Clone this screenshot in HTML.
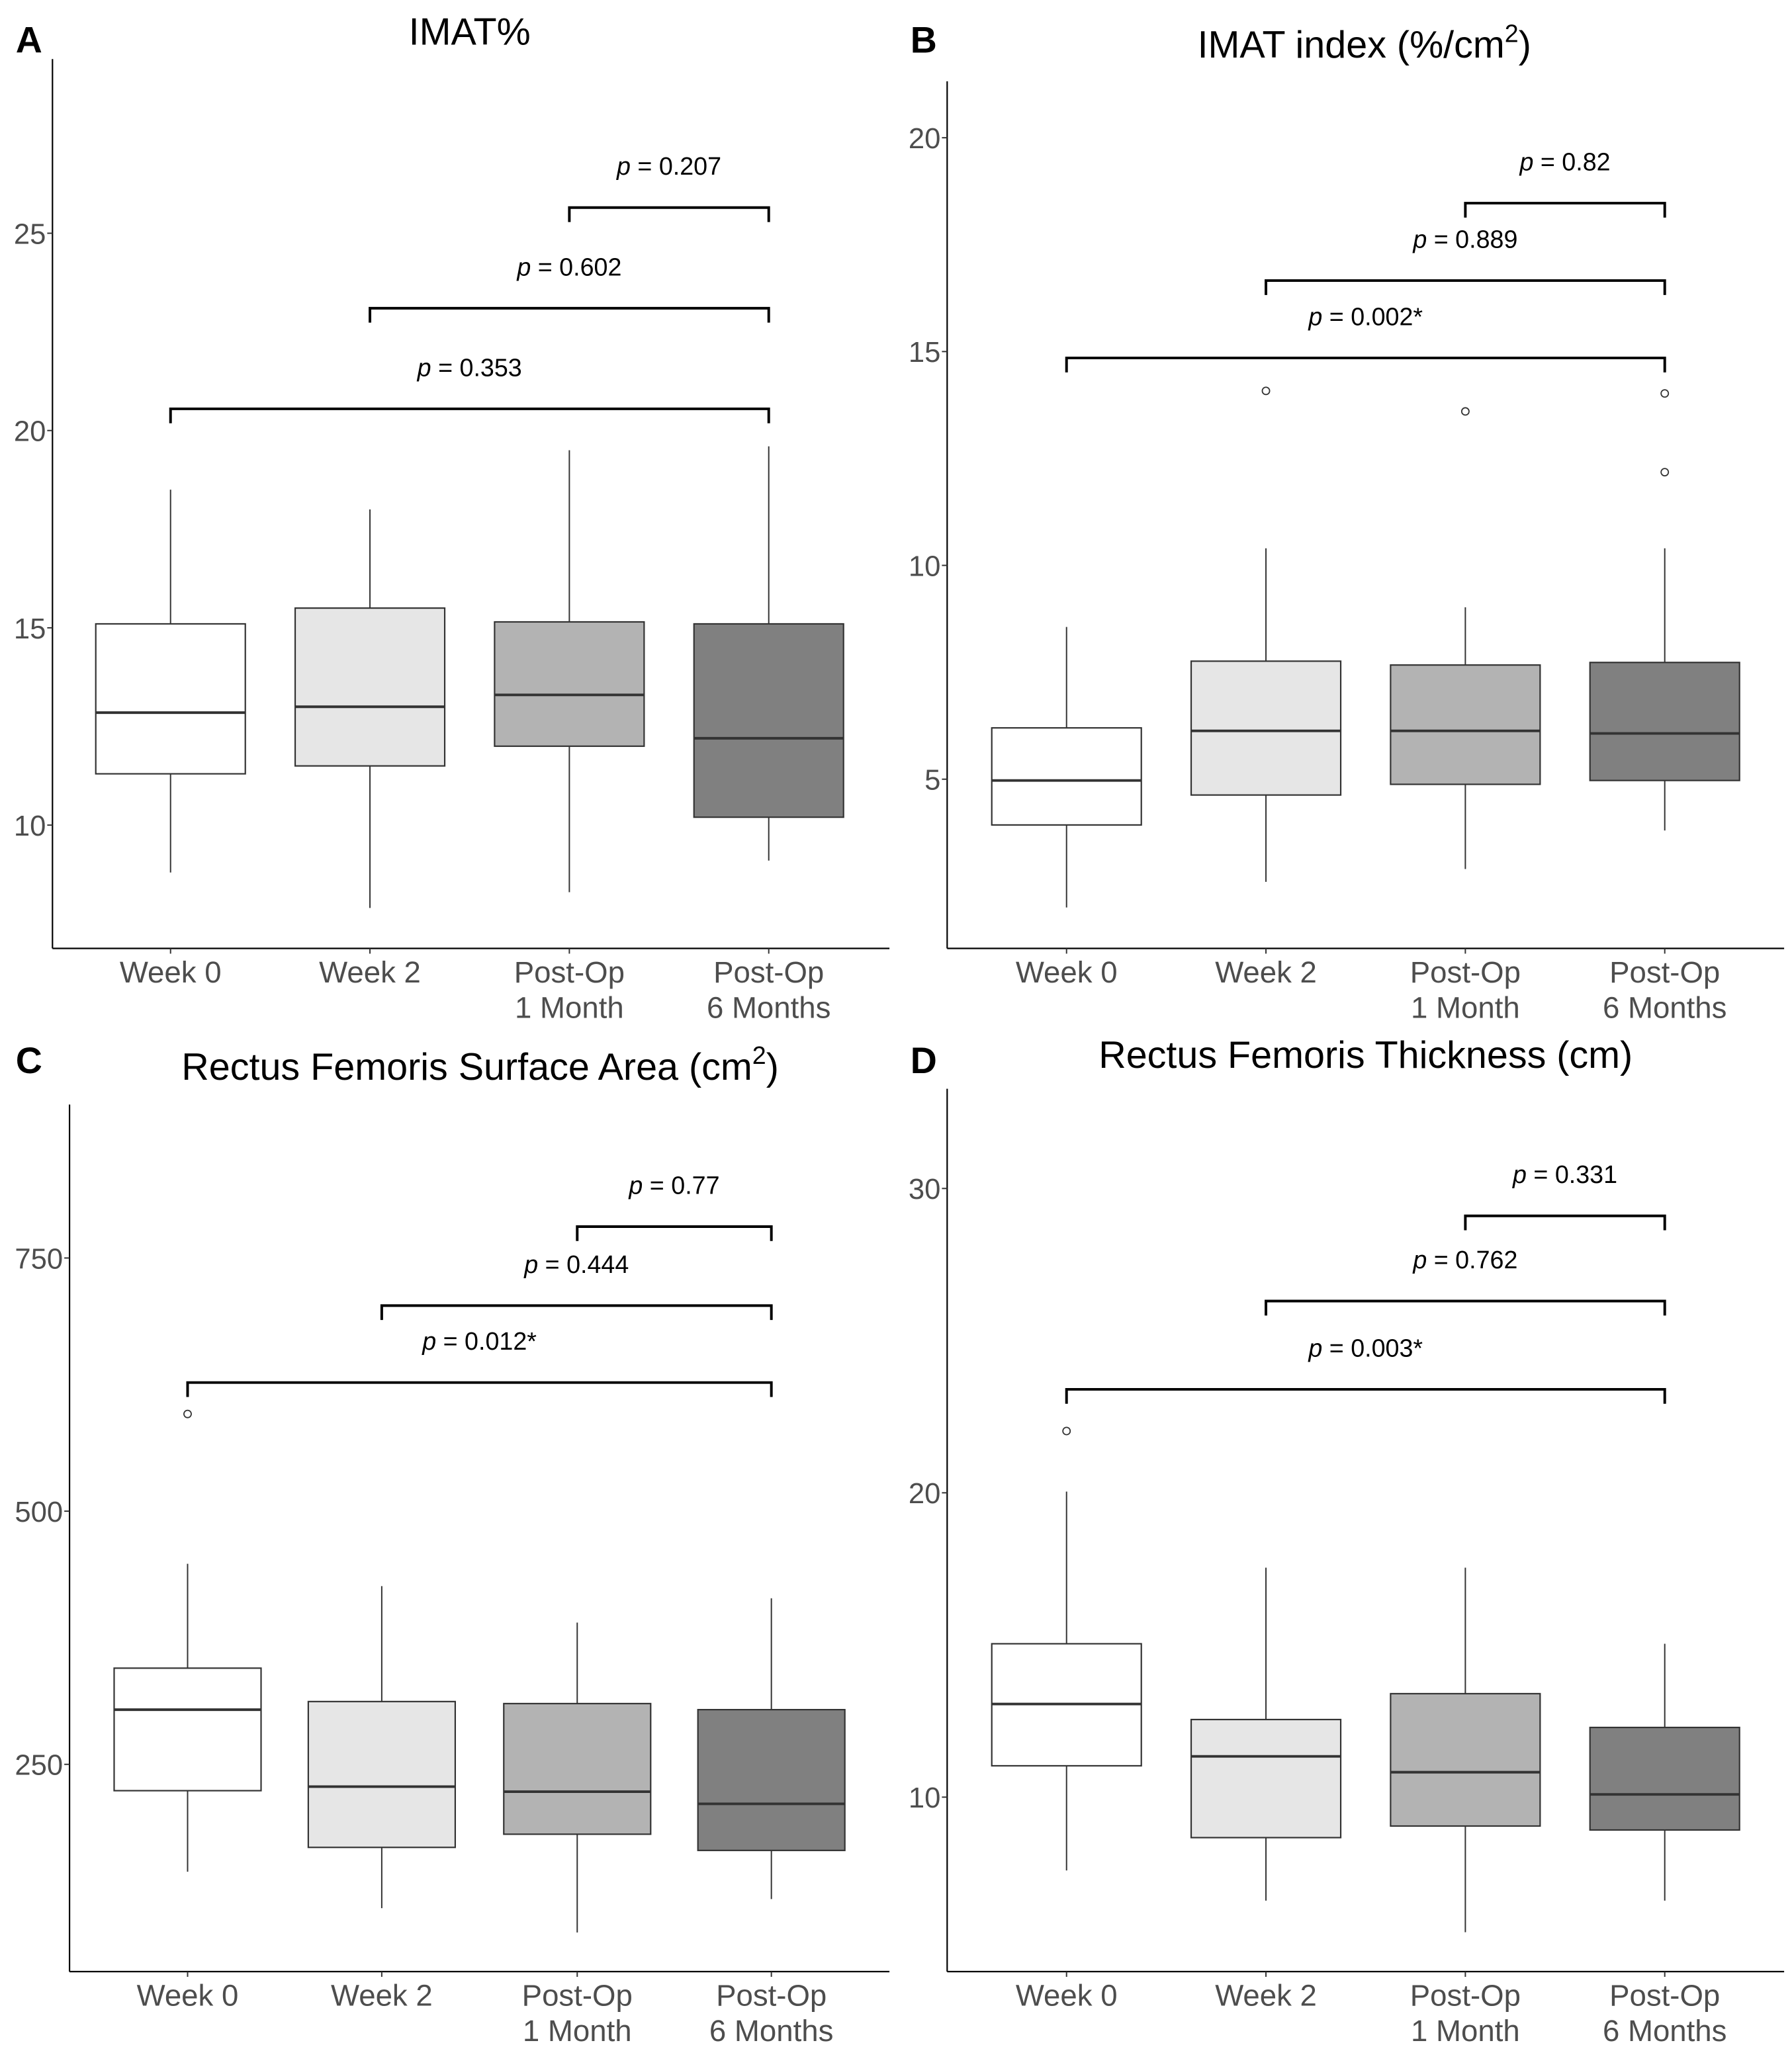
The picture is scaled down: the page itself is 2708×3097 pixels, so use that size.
<!DOCTYPE html>
<html><head><meta charset="utf-8"><style>
html,body{margin:0;padding:0;background:#fff;}
svg{display:block;}
text{font-family:"Liberation Sans",Arial,sans-serif;}
</style></head><body>
<svg id="fig" width="2708" height="3097" viewBox="0 0 1366 1562" preserveAspectRatio="none" xmlns="http://www.w3.org/2000/svg"></svg>
<script>
const categories = ["Week 0","Week 2","Post-Op|1 Month","Post-Op|6 Months"];
const fills = ["#ffffff","#e6e6e6","#b3b3b3","#808080"];
// Panel A: IMAT%
const aLow=[8.8,7.9,8.3,9.1], aQ1=[11.3,11.5,12.0,10.2], aMed=[12.85,13.0,13.3,12.2], aQ3=[15.1,15.5,15.15,15.1], aHigh=[18.5,18.0,19.5,19.6];
const aOut=[[],[],[],[]];
const aTicks=[10,15,20,25];
const aPairs=[[0,3],[1,3],[2,3]], aPy=[20.55,23.1,25.65], aPlab=["0.353","0.602","0.207"];
// Panel B: IMAT index
const bLow=[2.0,2.6,2.9,3.8], bQ1=[3.93,4.63,4.88,4.97], bMed=[4.97,6.13,6.13,6.07], bQ3=[6.2,7.76,7.67,7.73], bHigh=[8.56,10.4,9.02,10.4];
const bOut=[[],[14.08],[13.6],[14.02,12.18]];
const bTicks=[5,10,15,20];
const bPairs=[[0,3],[1,3],[2,3]], bPy=[14.85,16.66,18.47], bPlab=["0.002*","0.889","0.82"];
// Panel C: RF surface area
const cLow=[144,108,84,117], cQ1=[224,168,181,165], cMed=[304,228,223,211], cQ3=[345,312,310,304], cHigh=[448,426,390,414];
const cOut=[[596],[],[],[]];
const cTicks=[250,500,750];
const cPairs=[[0,3],[1,3],[2,3]], cPy=[627,703,781], cPlab=["0.012*","0.444","0.77"];
// Panel D: RF thickness
const dLow=[7.59,6.6,5.56,6.6], dQ1=[11.03,8.67,9.05,8.92], dMed=[13.06,11.34,10.82,10.09], dQ3=[15.04,12.55,13.4,12.29], dHigh=[20.04,17.54,17.54,15.04];
const dOut=[[22.03],[],[],[]];
const dTicks=[10,20,30];
const dPairs=[[0,3],[1,3],[2,3]], dPy=[23.4,26.3,29.1], dPlab=["0.003*","0.762","0.331"];

const NS="http://www.w3.org/2000/svg";
const svg=document.getElementById('fig');
function mk(tag,attrs,parent,txt){const e=document.createElementNS(NS,tag);for(const k in attrs)e.setAttribute(k,attrs[k]);if(txt!==undefined)e.textContent=txt;(parent||svg).appendChild(e);return e;}

function panel(cfg){
  const g=mk('g',{});
  
  
  const y=v=>cfg.y0-(v-cfg.v0)*cfg.k;
  const x=i=>cfg.cx[i];
  const hw=cfg.hw;
  const L=mk('text',{x:cfg.lx,y:cfg.ly,'font-size':28,'font-weight':'bold',fill:'#000'},g,cfg.letter);
  
  
  const T=mk('text',{x:cfg.tx,y:cfg.ty,'font-size':29,'text-anchor':'middle',fill:'#000'},g);
  
  
  T.textContent=cfg.title;
  if(cfg.sup){mk('tspan',{'font-size':19,dy:-12},T,'2');mk('tspan',{dy:12},T,')');}
  const ya=mk('line',{x1:cfg.ax,y1:cfg.atop,x2:cfg.ax,y2:cfg.abot,stroke:'#000','stroke-width':1.1},g);
  
  
  const xa=mk('line',{x1:cfg.ax,y1:cfg.abot,x2:cfg.aright,y2:cfg.abot,stroke:'#000','stroke-width':1.1},g);
  
  
  cfg.ticks.forEach(t=>{
    mk('line',{x1:cfg.ax-4,y1:y(t),x2:cfg.ax,y2:y(t),stroke:'#333','stroke-width':1},g);
    const tl=mk('text',{x:cfg.ax-5,y:y(t)+8,'font-size':22,'text-anchor':'end',fill:'#4d4d4d'},g,String(t));
    
    
  });
  categories.forEach((c,i)=>{
    mk('line',{x1:x(i),y1:cfg.abot,x2:x(i),y2:cfg.abot+4,stroke:'#333','stroke-width':1},g);
    c.split('|').forEach((ln,j)=>{
      const tl=mk('text',{x:x(i),y:cfg.abot+26+j*27,'font-size':23,'text-anchor':'middle',fill:'#4d4d4d'},g,ln);
      
      
    });
    const bg=mk('g',{},g);
    
    
    mk('line',{x1:x(i),y1:y(cfg.hi[i]),x2:x(i),y2:y(cfg.q3[i]),stroke:'#333','stroke-width':1},bg);
    mk('line',{x1:x(i),y1:y(cfg.q1[i]),x2:x(i),y2:y(cfg.lo[i]),stroke:'#333','stroke-width':1},bg);
    mk('rect',{x:x(i)-hw,y:y(cfg.q3[i]),width:2*hw,height:y(cfg.q1[i])-y(cfg.q3[i]),fill:fills[i],stroke:'#333','stroke-width':1.1},bg);
    mk('line',{x1:x(i)-hw,y1:y(cfg.med[i]),x2:x(i)+hw,y2:y(cfg.med[i]),stroke:'#333','stroke-width':2},bg);
    cfg.out[i].forEach(o=>{
      const c2=mk('circle',{cx:x(i),cy:y(o),r:2.8,fill:'#fff',stroke:'#333','stroke-width':0.9},bg);
      
      
    });
  });
  cfg.pairs.forEach((p,j)=>{
    const by=y(cfg.py[j]);
    const br=mk('path',{d:`M${x(p[0])},${by+11}V${by}H${x(p[1])}V${by+11}`,fill:'none',stroke:'#000','stroke-width':2},g);
    
    
    const t=mk('text',{x:(x(p[0])+x(p[1]))/2,y:by-25,'font-size':19,'text-anchor':'middle',fill:'#000'},g);
    
    
    mk('tspan',{'font-style':'italic'},t,'p');
    mk('tspan',{},t,' = '+cfg.plab[j]);
  });
}
panel({letter:'A',lx:12,ly:40,title:'IMAT%',tx:358,ty:34,ax:40,atop:45,abot:723,aright:678,y0:629,v0:10,k:30.08,cx:[130,282,434,586],hw:57,
  lo:aLow,q1:aQ1,med:aMed,q3:aQ3,hi:aHigh,out:aOut,ticks:aTicks,pairs:aPairs,py:aPy,plab:aPlab});
panel({letter:'B',lx:694,ly:40,title:'IMAT index (%/cm',sup:true,tx:1040,ty:44,ax:722,atop:62,abot:723,aright:1360,y0:594,v0:5,k:32.6,cx:[813,965,1117,1269],hw:57,
  lo:bLow,q1:bQ1,med:bMed,q3:bQ3,hi:bHigh,out:bOut,ticks:bTicks,pairs:bPairs,py:bPy,plab:bPlab});
panel({letter:'C',lx:12,ly:818,title:'Rectus Femoris Surface Area (cm',sup:true,tx:366,ty:823,ax:53,atop:842,abot:1503,aright:678,y0:1345,v0:250,k:0.772,cx:[143,291,440,588],hw:56,
  lo:cLow,q1:cQ1,med:cMed,q3:cQ3,hi:cHigh,out:cOut,ticks:cTicks,pairs:cPairs,py:cPy,plab:cPlab});
panel({letter:'D',lx:694,ly:818,title:'Rectus Femoris Thickness (cm)',tx:1041,ty:814,ax:722,atop:830,abot:1503,aright:1360,y0:1370,v0:10,k:23.2,cx:[813,965,1117,1269],hw:57,
  lo:dLow,q1:dQ1,med:dMed,q3:dQ3,hi:dHigh,out:dOut,ticks:dTicks,pairs:dPairs,py:dPy,plab:dPlab});
</script>
</body></html>
